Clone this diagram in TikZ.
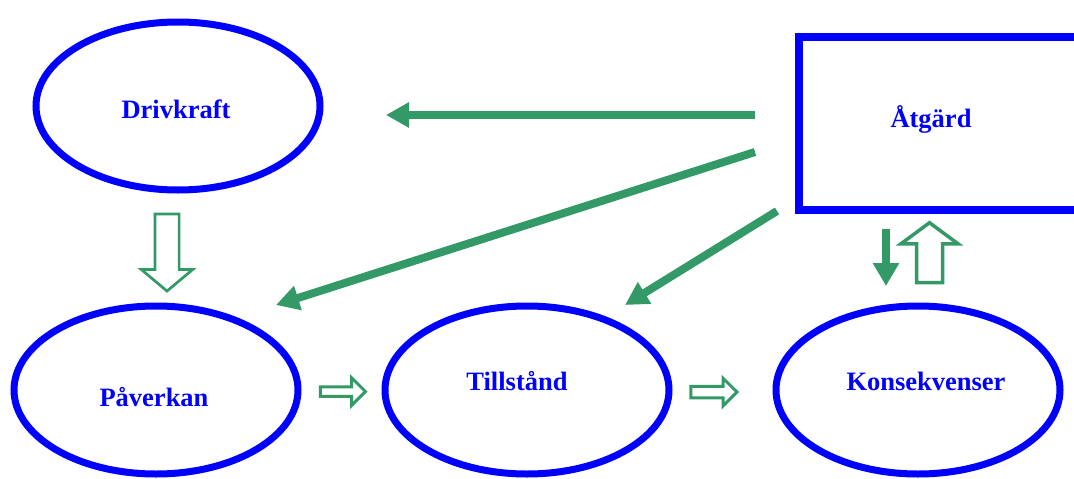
\documentclass[tikz,border=0pt]{standalone}
\usepackage{fontspec}
\setmainfont{Liberation Serif}
\usepackage{tikz}
\usetikzlibrary{arrows.meta,shapes.geometric,shapes.arrows}
\definecolor{flowgreen}{RGB}{51,153,102}

\begin{document}
\begin{tikzpicture}[x=1pt,y=-1pt,
			state node/.style={ellipse,draw=blue,line width=7pt,minimum width=284pt,minimum height=168pt,inner sep=0pt,outer sep=0pt},
			action node/.style={rectangle,draw=blue,line width=8pt,minimum width=281pt,minimum height=173pt,inner sep=0pt,outer sep=0pt},
			text node/.style={text=blue,font=\fontsize{26.5}{30}\selectfont\bfseries,inner sep=0pt,anchor=base},
			flow/.style={-{Triangle[length=23pt,width=24pt]},draw=flowgreen,line width=8pt},
			hollow arrow/.style={single arrow,draw=flowgreen,fill=white,line width=2.5pt,inner sep=0pt,outer sep=0pt,single arrow head indent=0pt,text depth=0pt,minimum width=0pt}
			]

			\useasboundingbox (0,0) rectangle (1074,479);

			% the five boxes
			\node[state node] (drv) at (178,106) {};
			\node[state node] (pav) at (156,390) {};
			\node[state node] (till) at (527,390) {};
			\node[state node] (kons) at (918,390) {};
			\node[action node] (atg) at (939.5,123.5) {};

			\node[text node] (drvtext) at (176,118) {Drivkraft};
			\node[text node] (pavtext) at (154,406) {Påverkan};
			\node[text node] (tilltext) at (517,390) {Tillstånd};
			\node[text node] (konstext) at (926,390) {Konsekvenser};
			\node[text node] (atgtext) at (931,127) {Åtgärd};

			% hollow block arrows
			\node[hollow arrow,rotate=-90,line width=2.7pt,text height=21.5pt,single arrow head extend=13.5pt,single arrow tip angle=100,minimum height=77pt] (drvpav) at (167,247.5) {};
			\node[hollow arrow,line width=3pt,text height=6.5pt,single arrow head extend=9pt,single arrow tip angle=90,minimum height=45pt] (pavtill) at (340.5,391.5) {};
			\node[hollow arrow,line width=3pt,text height=8.5pt,single arrow head extend=8pt,single arrow tip angle=90,minimum height=46pt] (tillkons) at (711,392) {};
			\node[hollow arrow,line width=3.5pt,rotate=90,text height=22.5pt,single arrow head extend=15.5pt,single arrow tip angle=107,minimum height=60pt] (konsatg) at (929.5,257.5) {};

			% ends of the green arrows
			\coordinate (f1s) at (755,115);
			\coordinate (f1e) at (386,115);
			\coordinate (f2s) at (755,152);
			\coordinate (f2e) at (276,305);
			\coordinate (f3s) at (777,211);
			\coordinate (f3e) at (625,305);
			\coordinate (f4s) at (886,229);
			\coordinate (f4e) at (886,286);

			\draw[flow] (f1s) -- (f1e);
			\draw[flow] (f2s) -- (f2e);
			\draw[flow] (f3s) -- (f3e);
			\draw[flow,-{Triangle[length=23pt,width=25pt]}] (f4s) -- (f4e);
		\end{tikzpicture}
\end{document}
